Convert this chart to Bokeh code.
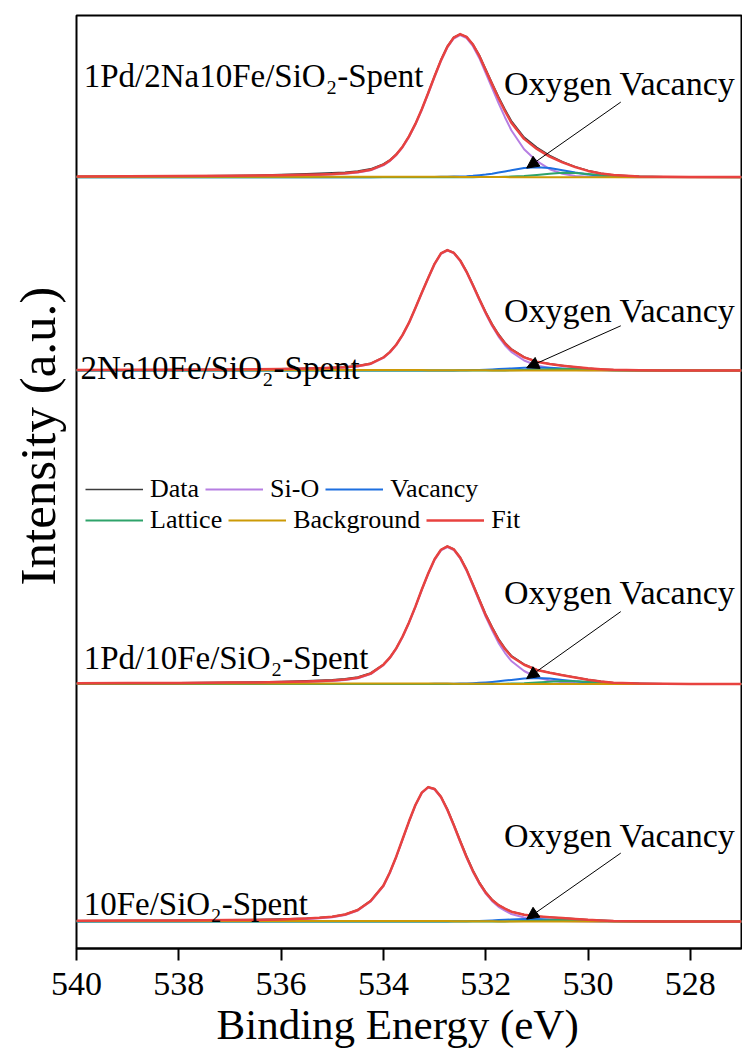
import math
import numpy as np
from bokeh.plotting import figure
from bokeh.models import Range1d, Label, Arrow, NormalHead, Legend, LegendItem, FixedTicker, Title
from bokeh.embed import file_html
from bokeh.resources import INLINE

# ---------------- data (binding energy in eV, intensity in a.u.) ----------------
energy = [540, 539, 538, 537, 536.5, 536, 535.5, 535.25, 535, 534.75, 534.5, 534.25,
          534, 533.875, 533.75, 533.625, 533.5, 533.375, 533.25, 533.125, 533, 532.875,
          532.75, 532.625, 532.5, 532.375, 532.25, 532.125, 532, 531.875, 531.75, 531.625,
          531.5, 531.25, 531, 530.75, 530.5, 530.25, 530, 529.75, 529.5, 529, 528.5, 528, 527]

panel_names = ["1Pd/2Na10Fe/SiO\u2082-Spent", "2Na10Fe/SiO\u2082-Spent",
               "1Pd/10Fe/SiO\u2082-Spent", "10Fe/SiO\u2082-Spent"]
stack_offsets = [771.3, 578.0, 264.5, 27.0]

# Panel 1: 1Pd/2Na10Fe/SiO2-Spent
p1_data = [0.8, 0.9, 1.2, 1.6, 2.0, 2.6, 3.3, 3.8, 4.3, 5.0, 6.2, 8.3, 13.2, 17.2, 23.0,
           30.8, 41.0, 53.5, 68.0, 84.5, 101.5, 117.5, 131.0, 140.0, 143.0, 140.5, 133.0,
           122.0, 108.0, 94.0, 80.5, 68.0, 56.5, 40.0, 29.8, 21.8, 15.5, 10.5, 6.6, 3.9,
           2.2, 0.8, 0.4, 0.2, 0.1]
p1_sio = [0.3, 0.4, 0.6, 0.9, 1.1, 1.4, 1.9, 2.3, 2.7, 3.4, 4.6, 6.9, 11.9, 16.1, 22.0,
          29.9, 40.1, 52.6, 67.2, 83.4, 100.2, 116.2, 129.7, 138.7, 142.0, 139.0, 131.0,
          119.0, 104.0, 89.0, 74.0, 60.0, 47.0, 28.0, 16.0, 8.0, 3.5, 1.2, 0.4, 0.2,
          0.1, 0, 0, 0, 0]
p1_vac = [0, 0, 0, 0, 0, 0, 0, 0, 0, 0, 0, 0, 0.1, 0.1, 0.1, 0.1, 0.2, 0.2, 0.2, 0.3, 0.3,
          0.4, 0.4, 0.6, 0.8, 1.0, 1.4, 2.0, 2.6, 3.5, 4.6, 5.7, 6.9, 9.1, 10.0, 9.1, 6.9,
          4.6, 2.6, 1.4, 0.8, 0.3, 0.2, 0.1, 0.1]
p1_lat = [0, 0, 0, 0, 0, 0, 0, 0, 0, 0, 0, 0, 0, 0, 0, 0, 0, 0, 0, 0, 0, 0, 0, 0, 0, 0, 0,
          0.1, 0.2, 0.2, 0.3, 0.4, 0.6, 1.2, 2.3, 3.5, 4.4, 4.3, 3.3, 2.2, 1.3, 0.5, 0.2,
          0.1, 0]
p1_bg = [0.5, 0.5, 0.5, 0.5, 0.5, 0.5, 0.5, 0.5, 0.5, 0.5, 0.5, 0.5, 0.5, 0.5, 0.5, 0.5,
         0.5, 0.49, 0.48, 0.47, 0.45, 0.43, 0.4, 0.36, 0.32, 0.28, 0.24, 0.2, 0.16, 0.13,
         0.1, 0.08, 0.06, 0.03, 0, 0, 0, 0, 0, 0, 0, 0, 0, 0, 0]

# Panel 2: 2Na10Fe/SiO2-Spent
p2_data = [0.6, 0.7, 0.9, 1.2, 1.4, 1.7, 2.1, 2.4, 2.9, 3.5, 4.8, 7.1, 13.2, 18.6, 25.9,
           35.8, 48.0, 62.8, 78.0, 92.8, 106.8, 117.2, 120.5, 118.0, 110.6, 99.4, 86.0,
           72.0, 58.6, 46.6, 36.4, 28.0, 21.6, 13.5, 9.0, 6.6, 4.9, 3.4, 2.2, 1.3, 0.7,
           0.2, 0.1, 0, 0]
p2_sio = [0.2, 0.3, 0.4, 0.7, 0.9, 1.1, 1.5, 1.8, 2.3, 2.9, 4.1, 6.4, 12.6, 18.0, 25.3,
          35.2, 47.4, 62.2, 77.4, 92.2, 106.2, 116.6, 120.0, 117.3, 109.6, 98.2, 84.7,
          70.5, 56.8, 44.5, 33.9, 25.3, 18.6, 10.0, 5.0, 2.5, 1.2, 0.6, 0.3, 0.2, 0.1,
          0, 0, 0, 0]
p2_vac = [0, 0, 0, 0, 0, 0, 0, 0, 0, 0, 0, 0, 0, 0, 0, 0, 0, 0, 0, 0, 0.1, 0.1, 0.1, 0.1,
          0.2, 0.3, 0.4, 0.6, 0.8, 1.1, 1.4, 1.7, 2.1, 2.7, 3.0, 2.7, 2.1, 1.4, 0.8, 0.4,
          0.2, 0.1, 0, 0, 0]
p2_lat = [0, 0, 0, 0, 0, 0, 0, 0, 0, 0, 0, 0, 0, 0, 0, 0, 0, 0, 0, 0, 0, 0, 0, 0, 0, 0, 0,
          0, 0, 0, 0.1, 0.1, 0.2, 0.4, 0.75, 1.2, 1.5, 1.4, 1.1, 0.7, 0.35, 0.1, 0, 0, 0]
p2_bg = [0.4, 0.4, 0.4, 0.4, 0.4, 0.4, 0.4, 0.4, 0.4, 0.4, 0.4, 0.4, 0.4, 0.4, 0.4, 0.4,
         0.4, 0.39, 0.38, 0.37, 0.36, 0.34, 0.32, 0.29, 0.26, 0.22, 0.19, 0.16, 0.13, 0.1,
         0.08, 0.06, 0.05, 0.02, 0, 0, 0, 0, 0, 0, 0, 0, 0, 0, 0]

# Panel 3: 1Pd/10Fe/SiO2-Spent
p3_data = [0.8, 0.9, 1.2, 1.6, 1.9, 2.4, 3.1, 3.6, 4.2, 5.2, 7.0, 11.0, 19.6, 26.5, 35.8,
           47.6, 61.6, 77.3, 94.4, 110.4, 124.8, 134.3, 137.8, 135.0, 126.8, 114.8, 100.0,
           85.0, 70.0, 57.2, 45.3, 36.0, 28.4, 19.8, 14.3, 11.4, 9.0, 6.6, 4.4, 2.6, 1.3,
           0.4, 0.2, 0.1, 0]
p3_sio = [0.3, 0.4, 0.6, 0.9, 1.1, 1.5, 2.0, 2.5, 3.0, 4.0, 5.8, 9.9, 18.8, 25.8, 35.1,
          47.0, 61.1, 76.9, 94.0, 110.0, 124.1, 133.6, 137.0, 134.0, 125.6, 113.3, 98.2,
          82.6, 67.1, 53.7, 41.1, 31.2, 23.0, 13.0, 6.5, 3.5, 1.8, 0.9, 0.5, 0.3, 0.2,
          0.1, 0, 0, 0]
p3_vac = [0, 0, 0, 0, 0, 0, 0, 0, 0, 0, 0, 0, 0, 0, 0, 0, 0, 0, 0, 0, 0.2, 0.2, 0.3, 0.3,
          0.45, 0.6, 0.85, 1.2, 1.6, 2.1, 2.7, 3.4, 4.1, 5.4, 6.0, 5.4, 4.1, 2.7, 1.6, 0.85,
          0.45, 0.2, 0.1, 0.1, 0]
p3_lat = [0, 0, 0, 0, 0, 0, 0, 0, 0, 0, 0, 0, 0, 0, 0, 0, 0, 0, 0, 0, 0, 0, 0, 0, 0, 0, 0,
          0, 0, 0.1, 0.2, 0.3, 0.4, 0.8, 1.5, 2.3, 2.9, 2.85, 2.2, 1.35, 0.7, 0.2, 0.1, 0, 0]
p3_bg = [0.5, 0.5, 0.5, 0.5, 0.5, 0.5, 0.5, 0.5, 0.5, 0.5, 0.5, 0.5, 0.5, 0.5, 0.5, 0.5,
         0.5, 0.49, 0.48, 0.47, 0.45, 0.43, 0.4, 0.36, 0.32, 0.28, 0.24, 0.2, 0.16, 0.13,
         0.1, 0.08, 0.06, 0.03, 0, 0, 0, 0, 0, 0, 0, 0, 0, 0, 0]

# Panel 4: 10Fe/SiO2-Spent
p4_data = [0.8, 0.9, 1.1, 1.6, 1.9, 2.5, 3.3, 4.0, 5.0, 7.2, 11.8, 20.8, 36.2, 49.2, 64.6,
           82.2, 100.0, 116.4, 128.8, 134.4, 132.8, 125.0, 112.6, 97.2, 81.2, 65.6, 51.4,
           39.4, 29.6, 22.0, 16.6, 13.0, 10.0, 6.9, 5.3, 4.3, 3.5, 2.6, 1.7, 1.1, 0.6,
           0.2, 0.1, 0, 0]
p4_sio = [0.3, 0.4, 0.5, 0.9, 1.1, 1.5, 2.5, 3.2, 4.2, 6.5, 11.0, 20.0, 35.4, 48.5, 64.3,
          82.0, 99.7, 116.0, 128.4, 133.9, 132.0, 124.1, 111.3, 95.9, 79.7, 63.9, 49.7,
          37.7, 27.9, 20.3, 14.7, 10.9, 7.5, 4.0, 2.0, 1.0, 0.5, 0.3, 0.1, 0.1, 0, 0, 0,
          0, 0]
p4_vac = [0, 0, 0, 0, 0, 0, 0, 0, 0, 0, 0, 0, 0, 0, 0, 0, 0, 0, 0, 0, 0, 0.1, 0.1, 0.15,
          0.2, 0.3, 0.5, 0.6, 0.8, 1.1, 1.4, 1.7, 2.0, 2.4, 2.5, 2.1, 1.5, 0.9, 0.5, 0.3,
          0.2, 0.1, 0, 0, 0]
p4_lat = [0, 0, 0, 0, 0, 0, 0, 0, 0, 0, 0, 0, 0, 0, 0, 0, 0, 0, 0, 0, 0, 0, 0, 0, 0, 0, 0,
          0, 0, 0, 0.1, 0.1, 0.2, 0.4, 0.75, 1.2, 1.5, 1.4, 1.1, 0.7, 0.35, 0.1, 0, 0, 0]
p4_bg = [0.5, 0.5, 0.5, 0.5, 0.5, 0.5, 0.5, 0.5, 0.5, 0.5, 0.5, 0.5, 0.5, 0.5, 0.5, 0.5,
         0.5, 0.49, 0.48, 0.47, 0.45, 0.43, 0.4, 0.36, 0.32, 0.28, 0.24, 0.2, 0.16, 0.13,
         0.1, 0.08, 0.06, 0.03, 0, 0, 0, 0, 0, 0, 0, 0, 0, 0, 0]

x_ticks = [540, 538, 536, 534, 532, 530, 528]
series_names = ["Data", "Si-O", "Vacancy", "Lattice", "Background", "Fit"]

# ---------------- styling ----------------
FONT = "Liberation Serif"
colors = {"Data": "#3c3c3c", "Si-O": "#b67ee2", "Vacancy": "#1d6fe0",
          "Lattice": "#2ea36a", "Background": "#cc9a06", "Fit": "#e8423f"}
widths = {"Data": 1.6, "Si-O": 2.0, "Vacancy": 2.0, "Lattice": 2.0,
          "Background": 2.0, "Fit": 2.5}

# annotation geometry
name_x = [539.86, 539.92, 539.86, 539.86]
name_y = [873, 581, 291, 45]
ov_y = [865, 638, 356, 113]
arrow_rise = [66, 42, 67, 66]
arrow_tip_e = 531.2
arrow_tail_e = 529.36

p = figure(width=742, height=1055, output_backend="svg", toolbar_location=None,
           x_range=Range1d(540, 527), y_range=Range1d(0, 933),
           min_border_left=76, min_border_right=1, min_border_top=15,
           min_border_bottom=107)
p.grid.visible = False
p.outline_line_color = "black"
p.outline_line_width = 2
p.background_fill_color = "white"
p.border_fill_color = "white"

p.yaxis.visible = False
xa = p.xaxis[0]
xa.ticker = FixedTicker(ticks=x_ticks)
xa.axis_line_width = 2
xa.axis_line_color = "black"
xa.major_tick_line_width = 2
xa.major_tick_in = 0
xa.major_tick_out = 12
xa.minor_tick_line_color = None
xa.major_label_text_font = FONT
xa.major_label_text_font_size = "34px"
xa.major_label_text_color = "black"
xa.major_label_standoff = 12

panels = [
    (p1_data, p1_sio, p1_vac, p1_lat, p1_bg),
    (p2_data, p2_sio, p2_vac, p2_lat, p2_bg),
    (p3_data, p3_sio, p3_vac, p3_lat, p3_bg),
    (p4_data, p4_sio, p4_vac, p4_lat, p4_bg),
]

legend_renderers = {}
for k, (dat, sio, vac, lat, bg) in enumerate(panels):
    off = stack_offsets[k]
    fit = np.array(sio) + np.array(vac) + np.array(lat) + np.array(bg)
    curves = {"Data": np.array(dat), "Si-O": np.array(sio), "Vacancy": np.array(vac),
              "Lattice": np.array(lat), "Background": np.array(bg), "Fit": fit}
    for name in series_names:
        r = p.line(energy, curves[name] + off, line_color=colors[name],
                   line_width=widths[name], line_join="round")
        if k == 0:
            legend_renderers[name] = r

    p.add_layout(Label(x=name_x[k], y=name_y[k], text=panel_names[k],
                       text_font=FONT, text_font_size="33px", text_color="black",
                       text_align="left", text_baseline="alphabetic"))
    p.add_layout(Label(x=527.12, y=ov_y[k], text="Oxygen Vacancy",
                       text_font=FONT, text_font_size="34px", text_color="black",
                       text_align="right", text_baseline="alphabetic"))
    tip_y = off + vac[33]
    p.add_layout(Arrow(end=NormalHead(size=12, fill_color="black", line_color="black",
                                      line_width=1),
                       x_start=arrow_tail_e, y_start=tip_y + arrow_rise[k],
                       x_end=arrow_tip_e, y_end=tip_y,
                       line_color="black", line_width=1))

# legends: two independent rows
leg_common = dict(orientation="horizontal", label_text_font=FONT,
                  label_text_font_size="26px", label_text_color="black",
                  glyph_width=58, glyph_height=22, label_height=22, label_standoff=7,
                  spacing=6, padding=0, margin=0, border_line_alpha=0,
                  background_fill_alpha=0)
leg1 = Legend(items=[LegendItem(label=n, renderers=[legend_renderers[n]])
                     for n in series_names[:3]], location=(9, 444), **leg_common)
leg2 = Legend(items=[LegendItem(label=n, renderers=[legend_renderers[n]])
                     for n in series_names[3:]], location=(9, 413), **leg_common)
p.add_layout(leg1)
p.add_layout(leg2)

# axis titles
xt = Title(text="Binding Energy (eV)", align="left", offset=140, text_font=FONT,
           text_font_size="43px", text_font_style="normal", text_color="black",
           standoff=2)
p.add_layout(xt, "below")
yt = Title(text="Intensity (a.u.)", align="left", offset=363, text_font=FONT,
           text_font_size="51px", text_font_style="normal", text_color="black",
           standoff=17, vertical_align="top")
p.add_layout(yt, "left")

open("out.html", "w").write(file_html(p, INLINE))
